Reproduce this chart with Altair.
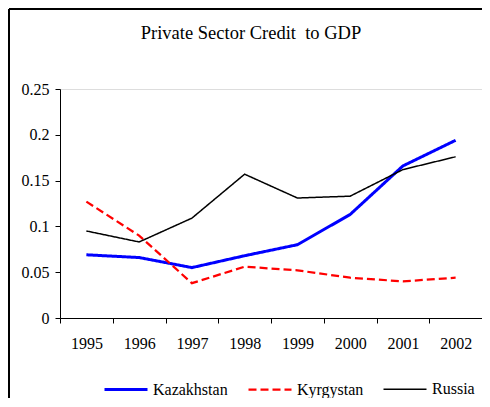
import altair as alt
import pandas as pd

years = ['1995', '1996', '1997', '1998', '1999', '2000', '2001', '2002']
series_names = ['Kazakhstan', 'Kyrgystan', 'Russia']
kazakhstan = [0.069, 0.066, 0.055, 0.068, 0.080, 0.113, 0.166, 0.194]
kyrgystan = [0.127, 0.090, 0.038, 0.056, 0.052, 0.044, 0.040, 0.044]
russia = [0.095, 0.083, 0.109, 0.157, 0.131, 0.133, 0.162, 0.176]
y_ticks = [0, 0.05, 0.1, 0.15, 0.2, 0.25]
title_text = 'Private Sector Credit\u00a0 to GDP'

rows = []
for name, vals in zip(series_names, [kazakhstan, kyrgystan, russia]):
    for yr, v in zip(years, vals):
        rows.append({'year': yr, 'value': v, 'series': name})
df = pd.DataFrame(rows)

FONT = 'Liberation Serif'
W, H = 422, 229
PL, PT, PR, PB = 52, 81, 0, 80

legend = alt.Legend(title=None, orient='none', legendX=43, legendY=277.5,
                    direction='horizontal', columns=3, symbolType='stroke',
                    symbolSize=1849, labelFont=FONT, labelFontSize=16,
                    labelColor='black', labelOffset=4, columnPadding=16,
                    labelLimit=200)

lines = alt.Chart(df).mark_line().encode(
    x=alt.X('year:O', sort=years, bandPosition=0.5,
            scale=alt.Scale(type='band', paddingInner=0, paddingOuter=0),
            axis=alt.Axis(title=None, labelAngle=0, tickBand='extent', tickSize=5,
                          labelPadding=12, labelFont=FONT, labelFontSize=16,
                          labelColor='black', domainColor='black', tickColor='black',
                          grid=False)),
    y=alt.Y('value:Q', scale=alt.Scale(domain=[0, 0.25], nice=False),
            axis=alt.Axis(title=None, values=y_ticks, format='.2~f', tickSize=5,
                          labelPadding=6, labelFont=FONT, labelFontSize=16,
                          labelColor='black', domainColor='black', tickColor='black',
                          grid=False)),
    color=alt.Color('series:N', sort=series_names,
                    scale=alt.Scale(domain=series_names, range=['#0000ff', '#ff0000', '#000000']),
                    legend=legend),
    strokeDash=alt.StrokeDash('series:N', sort=series_names,
                              scale=alt.Scale(domain=series_names, range=[[1, 0], [8, 4], [1, 0]]),
                              legend=legend),
    strokeWidth=alt.StrokeWidth('series:N', sort=series_names,
                                scale=alt.Scale(domain=series_names, range=[3, 1.5, 1]),
                                legend=legend),
)

dummy = pd.DataFrame({'a': [0]})
top_border = alt.Chart(dummy).mark_rule(color='black', strokeWidth=2).encode(
    x=alt.value(-51), x2=alt.value(W + PR), y=alt.value(-80))
left_border = alt.Chart(dummy).mark_rule(color='black', strokeWidth=2).encode(
    x=alt.value(-51), y=alt.value(-80), y2=alt.value(H + PB))
title = alt.Chart(dummy).mark_text(font=FONT, fontSize=18.5, color='black',
                                   align='center', baseline='alphabetic').encode(
    x=alt.value(191), y=alt.value(-50.5), text=alt.value(title_text))

chart = alt.layer(lines, top_border, left_border, title).properties(
    width=W, height=H,
    autosize=alt.AutoSizeParams(type='none'),
    padding={'left': PL, 'top': PT, 'right': PR, 'bottom': PB},
).configure_view(stroke='#999999', strokeWidth=1).configure(background='white')

chart.save('out.html', embed_options={'renderer': 'svg', 'actions': False})
